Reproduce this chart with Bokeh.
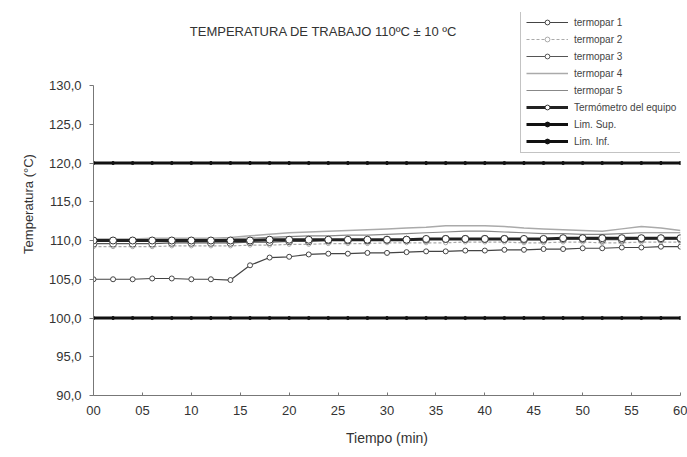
from bokeh.plotting import figure
from bokeh.models import FixedTicker, Legend, LegendItem, ColumnDataSource, Label
from bokeh.embed import file_html
from bokeh.resources import INLINE

tiempo = list(range(0, 61, 2))
termopar1 = [105.0, 105.0, 105.0, 105.1, 105.1, 105.0, 105.0, 104.9, 106.8, 107.8,
             107.9, 108.2, 108.3, 108.3, 108.4, 108.4, 108.5, 108.6, 108.6, 108.7,
             108.7, 108.8, 108.8, 108.9, 108.9, 109.0, 109.0, 109.1, 109.1, 109.2, 109.2]
termopar2 = [109.2, 109.2, 109.2, 109.2, 109.3, 109.3, 109.3, 109.3, 109.4, 109.4,
             109.5, 109.5, 109.6, 109.6, 109.6, 109.7, 109.7, 109.7, 109.7, 109.8,
             109.8, 109.8, 109.7, 109.7, 109.8, 109.8, 109.7, 109.7, 109.8, 109.8, 109.8]
termopar3 = [109.6, 109.6, 109.6, 109.6, 109.7, 109.7, 109.7, 109.7, 109.8, 109.8,
             109.9, 109.9, 110.0, 110.0, 110.0, 110.1, 110.1, 110.1, 110.2, 110.2,
             110.2, 110.2, 110.1, 110.1, 110.2, 110.2, 110.1, 110.1, 110.2, 110.2, 110.2]
termopar4 = [110.2, 110.2, 110.2, 110.3, 110.3, 110.3, 110.3, 110.4, 110.6, 110.8,
             111.0, 111.1, 111.2, 111.3, 111.4, 111.5, 111.6, 111.7, 111.9, 111.9,
             111.9, 111.8, 111.6, 111.5, 111.4, 111.3, 111.2, 111.5, 111.8, 111.6, 111.3]
termopar5 = [110.0, 110.0, 110.0, 110.1, 110.1, 110.1, 110.1, 110.2, 110.3, 110.4,
             110.5, 110.6, 110.6, 110.7, 110.7, 110.8, 110.9, 111.0, 111.1, 111.2,
             111.2, 111.1, 111.0, 110.9, 110.9, 110.8, 110.8, 110.9, 111.0, 111.0, 111.0]
termometro = [110.0, 110.0, 110.0, 110.0, 110.0, 110.0, 110.0, 110.0, 110.0, 110.1,
              110.1, 110.1, 110.1, 110.1, 110.1, 110.1, 110.1, 110.2, 110.2, 110.2,
              110.2, 110.2, 110.2, 110.2, 110.3, 110.3, 110.3, 110.3, 110.3, 110.3, 110.3]
lim_sup = [120.0] * 31
lim_inf = [100.0] * 31

x_ticks = [0, 5, 10, 15, 20, 25, 30, 35, 40, 45, 50, 55, 60]
x_labels = ["00", "05", "10", "15", "20", "25", "30", "35", "40", "45", "50", "55", "60"]
y_ticks = [90, 95, 100, 105, 110, 115, 120, 125, 130]
y_labels = ["90,0", "95,0", "100,0", "105,0", "110,0", "115,0", "120,0", "125,0", "130,0"]
titulo = "TEMPERATURA DE TRABAJO  110ºC ± 10 ºC"

src = ColumnDataSource(dict(t=tiempo, t1=termopar1, t2=termopar2, t3=termopar3, t4=termopar4,
                            t5=termopar5, tm=termometro, ls=lim_sup, li=lim_inf))

# frame spans y=12..395 px; 130 sits at y=85 (7.75 px per degree)
p = figure(width=687, height=457, output_backend="svg", toolbar_location=None,
           x_range=(0, 60), y_range=(90, 139.42),
           min_border_left=93, min_border_right=7, min_border_top=12, min_border_bottom=62)
p.grid.visible = False
p.outline_line_color = None

for ax in (p.xaxis, p.yaxis):
    ax.axis_line_color = "#777777"
    ax.major_tick_line_color = "#777777"
    ax.minor_tick_line_color = None
    ax.major_label_text_font = "Liberation Sans"
    ax.major_label_text_font_size = "13px"
    ax.major_label_text_color = "#333333"
    ax.axis_label_text_font = "Liberation Sans"
    ax.axis_label_text_font_style = "normal"
    ax.axis_label_text_color = "#333333"

p.xaxis.ticker = FixedTicker(ticks=x_ticks)
p.xaxis.major_label_overrides = dict(zip(x_ticks, x_labels))
p.xaxis.major_tick_in = 3
p.xaxis.major_tick_out = 0
p.xaxis.major_label_standoff = 10
p.xaxis.axis_label = "Tiempo (min)"
p.xaxis.axis_label_text_font_size = "14px"
p.xaxis.axis_label_standoff = 12
p.yaxis.ticker = FixedTicker(ticks=y_ticks)
p.yaxis.major_label_overrides = dict(zip(y_ticks, y_labels))
p.yaxis.major_tick_in = 0
p.yaxis.major_tick_out = 4
p.yaxis.major_label_standoff = 8
p.yaxis.bounds = (90, 130)
p.yaxis.axis_label = "Temperatura (°C)"
p.yaxis.axis_label_text_font_size = "13px"
p.yaxis.axis_label_standoff = 10

p.add_layout(Label(x=23.7, y=137.0, text=titulo, text_align="center", text_baseline="middle",
                   text_font="Liberation Sans", text_font_size="13px", text_color="#333333"))

items = []
r = [p.line("t", "t1", source=src, line_color="#444444", line_width=1.2),
     p.scatter("t", "t1", source=src, marker="circle", size=5, fill_color="white", line_color="#444444")]
items.append(LegendItem(label="termopar 1", renderers=r))
r = [p.line("t", "t2", source=src, line_color="#aaaaaa", line_width=1.2, line_dash="3 2"),
     p.scatter("t", "t2", source=src, marker="circle", size=4, fill_color="white", line_color="#aaaaaa")]
items.append(LegendItem(label="termopar 2", renderers=r))
r = [p.line("t", "t3", source=src, line_color="#555555", line_width=1.2),
     p.scatter("t", "t3", source=src, marker="circle", size=7, fill_color="white", line_color="#555555")]
items.append(LegendItem(label="termopar 3", renderers=r))
r = [p.line("t", "t4", source=src, line_color="#aaaaaa", line_width=1.5)]
items.append(LegendItem(label="termopar 4", renderers=r))
r = [p.line("t", "t5", source=src, line_color="#888888", line_width=1.2)]
items.append(LegendItem(label="termopar 5", renderers=r))
r = [p.line("t", "tm", source=src, line_color="#222222", line_width=3),
     p.scatter("t", "tm", source=src, marker="circle", size=7, fill_color="white", line_color="#333333")]
items.append(LegendItem(label="Termómetro del equipo", renderers=r))
r = [p.line("t", "ls", source=src, line_color="#111111", line_width=3),
     p.scatter("t", "ls", source=src, marker="circle", size=3, fill_color="#111111", line_color="#111111")]
items.append(LegendItem(label="Lim. Sup.", renderers=r))
r = [p.line("t", "li", source=src, line_color="#111111", line_width=3),
     p.scatter("t", "li", source=src, marker="circle", size=3, fill_color="#111111", line_color="#111111")]
items.append(LegendItem(label="Lim. Inf.", renderers=r))

legend = Legend(items=items, location=(427, 242))
legend.label_text_font = "Liberation Sans"
legend.label_text_font_size = "10px"
legend.label_text_color = "#444444"
legend.glyph_width = 42
legend.glyph_height = 12
legend.label_height = 12
legend.label_standoff = 6
legend.spacing = 5
legend.padding = 5
legend.margin = 0
legend.border_line_color = "#888888"
legend.background_fill_alpha = 1
p.add_layout(legend, "center")

open("out.html", "w").write(file_html(p, INLINE))
